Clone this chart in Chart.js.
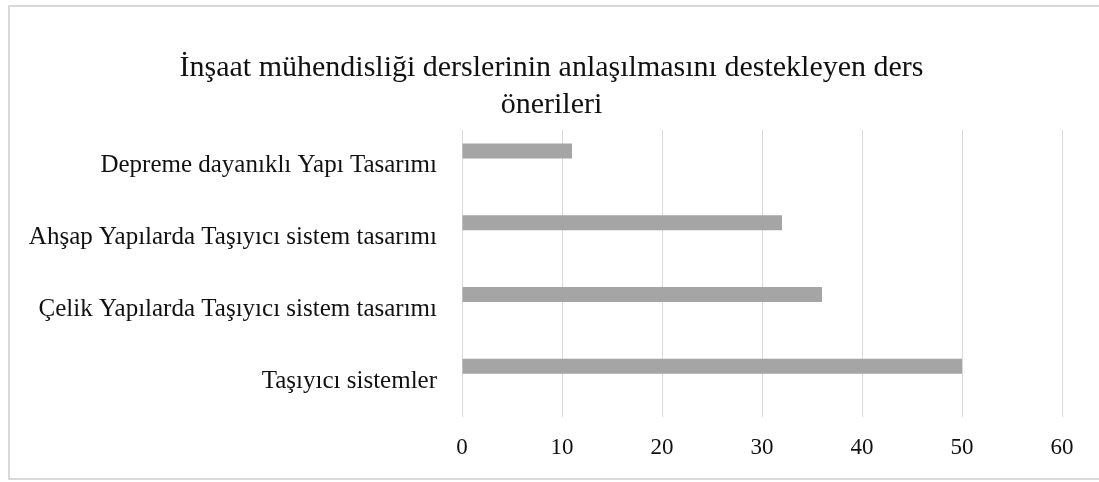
<!DOCTYPE html>
<html>
<head>
<meta charset="utf-8">
<script src="https://cdn.jsdelivr.net/npm/chart.js@4/dist/chart.umd.min.js"></script>
<style>
  html, body { margin: 0; padding: 0; background: #ffffff; }
  #wrap { position: relative; width: 1099px; height: 482px; }
  canvas { display: block; }
</style>
</head>
<body>
<div id="wrap"><canvas id="c" width="1099" height="482"></canvas></div>
<script>
const chartTitle = ['İnşaat mühendisliği derslerinin anlaşılmasını destekleyen ders', 'önerileri'];
const categories = [
  'Depreme dayanıklı Yapı Tasarımı',
  'Ahşap Yapılarda Taşıyıcı sistem tasarımı',
  'Çelik Yapılarda Taşıyıcı sistem tasarımı',
  'Taşıyıcı sistemler'
];
const seriesValues = [11, 32, 36, 50];
const emptySeries = [null, null, null, null];
const xTicks = [0, 10, 20, 30, 40, 50, 60];

const SERIF = "'Liberation Serif', 'DejaVu Serif', serif";

const frame = {
  id: 'frame',
  beforeDraw(chart) {
    const ctx = chart.ctx;
    ctx.save();
    ctx.fillStyle = '#ffffff';
    ctx.fillRect(0, 0, chart.width, chart.height);
    ctx.strokeStyle = '#d9d9d9';
    ctx.lineWidth = 2;
    ctx.strokeRect(9, 6, 1100, 473);
    ctx.restore();
  }
};

// centre the title over the whole chart frame rather than the padded box
const centreTitle = {
  id: 'centreTitle',
  afterLayout(chart) {
    const t = chart.titleBlock;
    if (t) { t.left = 8; t.right = 1095; t.width = t.right - t.left; }
  }
};

new Chart(document.getElementById('c'), {
  type: 'bar',
  data: {
    labels: categories,
    datasets: [
      { label: 'Seri 1', data: seriesValues, backgroundColor: '#a5a5a5', borderWidth: 0 },
      { label: 'Seri 2', data: emptySeries, backgroundColor: '#a5a5a5', borderWidth: 0 }
    ]
  },
  options: {
    indexAxis: 'y',
    responsive: false,
    animation: false,
    categoryPercentage: 0.836,
    barPercentage: 0.5,
    layout: { padding: { left: 0, right: 37, top: 0, bottom: 0 } },
    plugins: {
      legend: { display: false },
      tooltip: { enabled: false },
      title: {
        display: true,
        text: chartTitle,
        color: '#111111',
        font: { family: SERIF, size: 30, weight: 'normal', lineHeight: 37 / 30 },
        padding: { top: 50, bottom: 6 }
      }
    },
    scales: {
      x: {
        min: 0,
        max: 60,
        afterBuildTicks(scale) { scale.ticks = xTicks.map(v => ({ value: v })); },
        afterFit(scale) { scale.height = 65; },
        grid: { color: '#d9d9d9', lineWidth: 1, drawTicks: false },
        border: { display: false },
        ticks: {
          padding: 17,
          color: '#111111',
          font: { family: SERIF, size: 23 },
          maxRotation: 0
        }
      },
      y: {
        afterFit(scale) { scale.width = 462; },
        grid: { display: false, drawTicks: false },
        border: { display: false },
        ticks: {
          padding: 25,
          color: '#111111',
          font: { family: SERIF, size: 25 }
        }
      }
    }
  },
  plugins: [frame, centreTitle]
});
</script>
</body>
</html>
